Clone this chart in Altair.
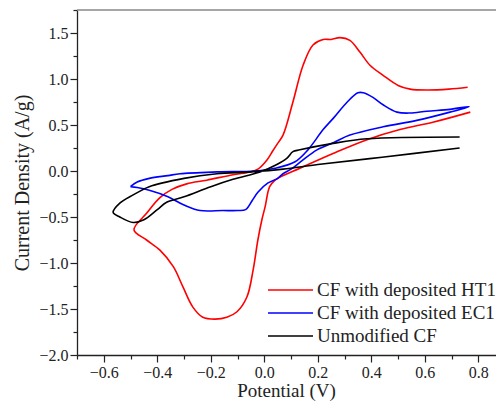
import altair as alt
import pandas as pd

series_names = ["CF with deposited HT1", "CF with deposited EC1", "Unmodified CF"]
series_colors = ["#ff0000", "#0000ff", "#000000"]

# CF with deposited HT1 (red)
red_v = [0.76, 0.69, 0.61, 0.545, 0.50, 0.444, 0.395, 0.358, 0.32, 0.283, 0.25, 0.22, 0.182, 0.145,
         0.107, 0.07, 0.05, 0.032, 0.01, -0.024, -0.053, -0.117, -0.215, -0.29, -0.345, -0.39, -0.44,
         -0.487, -0.44, -0.39, -0.34, -0.304, -0.267, -0.23, -0.184, -0.14, -0.102, -0.065, -0.042,
         -0.024, -0.009, 0.003, 0.02, 0.04, 0.05, 0.133, 0.257, 0.384, 0.507, 0.63, 0.77]
red_i = [0.91, 0.89, 0.88, 0.89, 0.93, 1.04, 1.15, 1.29, 1.42, 1.45, 1.43, 1.43, 1.37, 1.15,
         0.75, 0.39, 0.30, 0.22, 0.12, 0.02, -0.01, -0.04, -0.10, -0.14, -0.20, -0.29, -0.46,
         -0.64, -0.75, -0.86, -1.04, -1.26, -1.48, -1.59, -1.61, -1.59, -1.53, -1.37, -1.08,
         -0.75, -0.53, -0.39, -0.17, -0.10, -0.08, 0.03, 0.19, 0.34, 0.45, 0.53, 0.64]

# CF with deposited EC1 (blue)
blue_v = [-0.50, -0.475, -0.43, -0.36, -0.315, -0.177, -0.035, 0.04, 0.115, 0.163, 0.22, 0.26, 0.31,
          0.35, 0.37, 0.406, 0.444, 0.496, 0.545, 0.608, 0.694, 0.766,
          0.694, 0.57, 0.444, 0.32, 0.26, 0.197, 0.14, 0.10, 0.07, 0.05, 0.014, -0.024, -0.045,
          -0.07, -0.10, -0.155, -0.24, -0.30, -0.36, -0.43, -0.475, -0.50]
blue_i = [-0.17, -0.12, -0.08, -0.05, -0.03, -0.01, 0.0, 0.03, 0.10, 0.23, 0.45, 0.58, 0.75,
          0.85, 0.85, 0.80, 0.72, 0.64, 0.63, 0.65, 0.67, 0.70,
          0.64, 0.55, 0.48, 0.39, 0.31, 0.23, 0.11, 0.02, -0.03, -0.08, -0.13, -0.23, -0.32,
          -0.42, -0.43, -0.43, -0.43, -0.37, -0.28, -0.21, -0.18, -0.17]

# Unmodified CF (black)
black_v = [0.73, 0.44, 0.20, 0.07, -0.05, -0.177, -0.30, -0.43, -0.49, -0.54, -0.565,
           -0.54, -0.49, -0.45, -0.40, -0.365, -0.30, -0.20, -0.117, -0.016, 0.047, 0.085,
           0.107, 0.133, 0.257, 0.384, 0.73]
black_i = [0.25, 0.15, 0.07, 0.02, -0.01, -0.03, -0.08, -0.17, -0.26, -0.35, -0.45,
           -0.50, -0.56, -0.53, -0.42, -0.34, -0.28, -0.17, -0.09, -0.01, 0.07, 0.14,
           0.21, 0.23, 0.30, 0.35, 0.37]

x_ticks = [-0.7, -0.6, -0.5, -0.4, -0.3, -0.2, -0.1, 0.0, 0.1, 0.2, 0.3, 0.4, 0.5, 0.6, 0.7, 0.8]
y_ticks = [-2.0, -1.75, -1.5, -1.25, -1.0, -0.75, -0.5, -0.25, 0.0, 0.25, 0.5, 0.75, 1.0, 1.25, 1.5, 1.75]

rows = []
for name, vs, cs in zip(series_names, [red_v, blue_v, black_v], [red_i, blue_i, black_i]):
    for k, (v, c) in enumerate(zip(vs, cs)):
        rows.append({"series": name, "k": k, "v": v, "i": c})
df = pd.DataFrame(rows)
legend_df = pd.DataFrame({"series": series_names})
frame_df = pd.DataFrame({"part": ["top"]})

FONT = "Liberation Serif"
INK = "#222222"
W, H = 419, 345

color = alt.Color("series:N", scale=alt.Scale(domain=series_names, range=series_colors), legend=None)

x_axis = alt.Axis(
    values=x_ticks,
    labelExpr="abs(round(datum.value*10)) % 2 == 0 ? replace(format(datum.value, '.1f'), '-', '\u2212') : ''",
    tickSize={"condition": {"test": "abs(round(datum.value*10)) % 2 == 0", "value": 7}, "value": 4},
    grid=False, labelFont=FONT, labelFontSize=16, labelColor=INK, labelPadding=2,
    labelOverlap=False, labelFlush=False,
    tickColor=INK, domainColor=INK, domainWidth=1.3, tickWidth=1.2,
    title="Potential (V)", titleFont=FONT, titleFontSize=19, titleFontWeight="normal",
    titleColor=INK, titleX=209, titleY=41.5, titleBaseline="alphabetic",
)
y_axis = alt.Axis(
    values=y_ticks,
    labelExpr="abs(round(datum.value*4)) % 2 == 0 ? replace(format(datum.value, '.1f'), '-', '\u2212') : ''",
    tickSize={"condition": {"test": "abs(round(datum.value*4)) % 2 == 0", "value": 7}, "value": 4},
    grid=False, labelFont=FONT, labelFontSize=16, labelColor=INK, labelPadding=2,
    labelOverlap=False, labelFlush=False,
    tickColor=INK, domainColor=INK, domainWidth=1.3, tickWidth=1.2,
    title="Current Density (A/g)", titleFont=FONT, titleFontSize=20, titleFontWeight="normal",
    titleColor=INK, titleX=-55, titleY=172.5, titleBaseline="middle", titleAngle=-90,
)

lines = alt.Chart(df).mark_line(strokeWidth=1.6, clip=True, interpolate="catmull-rom").encode(
    x=alt.X("v:Q", scale=alt.Scale(domain=[-0.7, 0.866], nice=False, zero=False), axis=x_axis),
    y=alt.Y("i:Q", scale=alt.Scale(domain=[-2.0, 1.75], nice=False, zero=False), axis=y_axis),
    color=color,
    order="k:Q",
    detail="series:N",
)

top_frame = alt.Chart(frame_df).mark_rule(color="#888888", strokeWidth=1.5).encode(
    x=alt.value(0), x2=alt.value(W), y=alt.value(0)
)

leg_y = alt.Y("series:N", scale=alt.Scale(type="point", domain=series_names, range=[280, 326], padding=0), axis=None)
leg_rule = alt.Chart(legend_df).mark_rule(strokeWidth=1.6).encode(
    x=alt.value(191), x2=alt.value(236), y=leg_y, color=color
)
leg_text = alt.Chart(legend_df).mark_text(
    align="left", baseline="middle", font=FONT, fontSize=19, color=INK
).encode(x=alt.value(240), y=leg_y, text="series:N")

chart = alt.layer(lines, top_frame, leg_rule, leg_text).resolve_scale(y="independent").properties(
    width=W, height=H,
    padding={"left": 69, "top": 2, "right": 0, "bottom": 47},
    autosize=alt.AutoSizeParams(type="none"),
).configure_view(stroke=None)

chart.save("out.html", embed_options={"renderer": "svg", "actions": False})
